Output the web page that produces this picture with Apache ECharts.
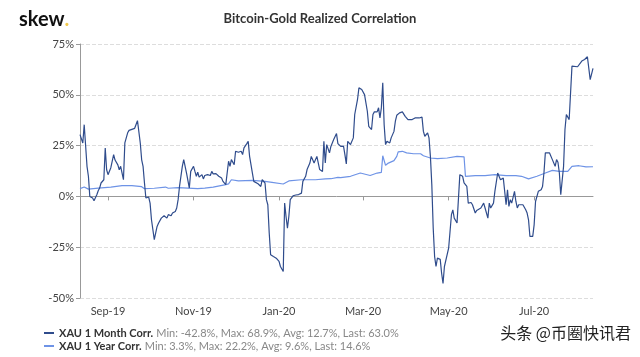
<!DOCTYPE html>
<html>
<head>
<meta charset="utf-8">
<script src="https://cdn.jsdelivr.net/npm/echarts@6/dist/echarts.min.js"></script>
<style>html,body{margin:0;padding:0;background:#fff}#c{width:640px;height:357px}</style>
</head>
<body>
<div id="c"></div>
<script>
// Day offsets are counted from the first date on the axis (12 Aug 2019)
const startDate = [2019, 7, 12];
const endDay = 366;
const monthDays = [0,2,3,5,6,7,8,9,10,12,13,14,15,17,18,19,20,22,24,25,27,28,29,30,31,32,34,35,37,39,40,41,42,43,44,45,46,47,48,49,50,51,53,54,55,56,58,59,60,62,63,65,66,68,69,70,71,73,74,75,76,78,79,81,82,83,84,85,87,88,89,90,91,93,94,95,
97,99,101,102,104,105,106,107,108,110,111,113,115,116,117,119,120,121,123,124,125,127,129,130,131,132,133,134,135,136,138,139,140,142,143,145,146,147,148,149,150,152,154,156,158,159,161,162,164,165,166,167,169,170,171,173,174,175,176,178,179,181,183,184,186,
188,189,190,191,193,195,196,198,199,201,202,203,205,206,208,209,210,212,213,214,215,216,217,218,219,221,222,223,224,225,226,228,230,231,232,234,235,237,239,240,242,244,245,246,248,249,250,251,252,253,254,255,257,258,259,260,261,263,264,265,266,267,
268,269,270,271,273,274,275,276,277,279,280,281,282,283,284,286,287,288,289,291,292,293,294,295,296,298,299,300,301,302,304,305,306,307,308,310,311,312,313,314,316,317,318,319,320,321,323,324,325,326,327,329,330,331,332,333,335,336,337,339,340,341,342,343,344,345,346,347,348,349,350,351,352,355,356,358,360,361,362,363,364,366];
const monthValues = [30.4,26.3,35.3,14.8,9.9,0,-0.3,-0.8,-2.1,0.8,2.8,4.1,6.6,8.2,23.8,13.1,10.7,14.1,20.6,17.9,15.5,13.1,14.8,15.5,8.2,26.3,31.3,32.5,33,33.5,35.4,37.3,37.3,26.3,18,14.8,6.6,-0.8,-1.6,-0.3,-3.3,-11.5,-21.3,-21,-14.8,-13.2,-10.7,-11.3,-9.5,-10.7,-9,-9.5,-8.2,-7.4,-5.7,-1.6,4.9,14.8,18.1,17.6,11.5,4.1,12.3,14.8,12.3,9.9,11.9,9.5,10.7,8.6,10.3,9.5,10.7,10.3,12.3,11.1,
11.2,9.9,9,7.4,5.8,5.8,17.3,14.8,18.1,15.6,22.2,21.7,22.2,20.6,23.9,26,27.1,19.7,11.5,7.4,6.9,6.2,4.9,8.2,8.5,6.6,-1.6,-4.1,-18,-28.7,-29.6,-30.4,-30.4,-32,-34.5,-37,-3.3,-9.9,-15.6,-9.9,-1.6,0.3,0.7,0.9,1.6,7.4,9.9,13.2,16.4,19.7,20.6,16.4,19.7,20.6,13.2,12.3,27.1,16.4,25.5,21.4,24.6,28,30.9,26,24.6,
24.7,20.6,16,27.1,25.5,28.8,40.3,47.7,53.4,52.6,52.6,50.1,41.9,34.5,32.9,40.3,41.6,41.6,43.6,38.6,43.6,55.9,35.3,25.5,27.1,26.3,28.8,29.6,32,37,39.9,41.1,41.6,41.6,39.4,37.8,38.6,37.8,38.6,38.1,38.6,39,32,29.6,31.3,28.8,19.7,5.8,-15.6,-29.6,-34.5,-30.4,-31,-37.8,-42.8,-34.5,-33.7,-25.5,-17.3,-9,-6.6,-10.7,
-11.5,-13.1,-14,10.7,9.9,6.6,6.9,4.9,-3.3,-3,-4.1,-3.3,-8.2,-6.9,-7.4,-5.7,-6.6,-3.3,-5.7,-10.7,-3.3,-5.7,-6.6,-3.3,2.5,11.5,10.7,8.2,7.4,9,-4.1,3.3,-4.9,-1.6,-3.3,2.5,-2.5,-5.7,-4.1,-3.3,-4.1,-3.3,-6.6,-8.2,-11.5,-19.7,-19.7,-14,-2.5,-1.6,2.5,3.3,4.9,11.5,21.4,21.7,21.4,21.7,18.1,14.8,18.1,16.8,11.5,0.8,0,14.8,32.9,40.3,39.4,37.8,51,64.1,64.6,63.8,63.1,66.6,67.4,67,68.7,68.9,57.5,63];
const yearDays = [0,3,6,13,22,30,37,44,46,53,61,63,70,77,84,89,95,96,104,106,108,113,123,132,137,145,149,158,168,175,179,184,186,193,200,207,212,215,216,218,220,224,226,227,230,233,238,243,245,250,255,262,269,274,275,282,289,296,304,311,315,320,326,332,337,342,348,351,356,361,366];
const yearValues = [3.8,4.6,3.6,4.1,4.6,5.3,5.3,4.8,3.8,4,4.6,4,4.3,4.1,3.8,4.1,4.6,4.9,5.8,6.2,8.2,7.6,7.9,7.4,6.9,6.1,7.6,8.2,8.2,8.6,8.7,9.4,9.2,9.9,11.5,10.3,11.5,11.8,20,15.3,16.4,17.6,19.7,21.9,22.2,21.4,21,21,20,18.9,18.6,18.9,19.7,19.5,9.9,10.2,10.2,10.7,10.2,10.2,9.9,8.6,9.9,11.5,12.8,12.3,12.3,14.8,15.1,14.5,14.6];
const seriesNames = ['XAU 1 Month Corr.', 'XAU 1 Year Corr.'];
const seriesStats = ['Min: -42.8%, Max: 68.9%, Avg: 12.7%, Last: 63.0%', 'Min: 3.3%, Max: 22.2%, Avg: 9.6%, Last: 14.6%'];
const yTicks = [-50, -25, 0, 25, 50, 75];
const monthAbbr = ['Jan','Feb','Mar','Apr','May','Jun','Jul','Aug','Sep','Oct','Nov','Dec'];
const titleText = 'Bitcoin-Gold Realized Correlation';
const watermark = '头条 @币圈快讯君';

function dayToTime(d) { return new Date(startDate[0], startDate[1], startDate[2] + d).getTime(); }
const monthData = monthDays.map((d, i) => [dayToTime(d), monthValues[i]]);
const yearData = yearDays.map((d, i) => [dayToTime(d), yearValues[i]]);
const statsByName = {}; seriesNames.forEach((n, i) => statsByName[n] = seriesStats[i]);

const chart = echarts.init(document.getElementById('c'), null, {renderer: 'canvas'});
chart.setOption({
  animation: false,
  backgroundColor: '#fff',
  textStyle: {fontFamily: 'Lato'},
  title: [{
    text: titleText, left: 'center', top: 7,
    textStyle: {fontFamily: 'Lato', fontSize: 13, fontWeight: 'bold', color: '#333'}
  }, {
    text: '{a|skew}{b|.}', left: 14, top: 5,
    textStyle: {rich: {
      a: {fontFamily: 'Lato', fontSize: 20, fontWeight: 'bold', color: '#111'},
      b: {fontFamily: 'Lato', fontSize: 20, fontWeight: 'bold', color: '#f2c94c'}
    }}
  }],
  graphic: [{
    type: 'text', right: 9, top: 325,
    style: {text: watermark, font: '16px "Noto Sans CJK SC"', fill: '#222'}
  }],
  legend: {
    orient: 'vertical', left: 44, top: 327, height: 60, itemWidth: 10, itemHeight: 2, itemGap: 1,
    padding: 0,
    icon: 'rect',
    data: seriesNames,
    formatter: name => '{n|' + name + '} {s|' + statsByName[name] + '}',
    textStyle: {rich: {
      n: {fontFamily: 'Lato', fontSize: 11, fontWeight: 'bold', color: '#333', lineHeight: 12},
      s: {fontFamily: 'Lato', fontSize: 11, color: '#888', lineHeight: 12}
    }}
  },
  grid: {left: 80, right: 47, top: 44, bottom: 59},
  xAxis: {
    type: 'time',
    min: dayToTime(0), max: dayToTime(endDay),
    splitNumber: 6,
    axisLine: {lineStyle: {color: '#999'}},
    axisTick: {show: true, length: 4, lineStyle: {color: '#999'}},
    splitLine: {show: false},
    axisLabel: {
      color: '#444', fontSize: 11, fontFamily: 'Lato', margin: 8,
      formatter: v => { const d = new Date(v); return monthAbbr[d.getMonth()] + '-' + String(d.getFullYear()).slice(2); }
    }
  },
  yAxis: {
    type: 'value', min: yTicks[0], max: yTicks[yTicks.length - 1], interval: 25,
    axisLine: {show: true, lineStyle: {color: '#999'}},
    axisTick: {show: true, length: 4, lineStyle: {color: '#999'}},
    splitLine: {lineStyle: {color: '#ddd', type: 'dashed'}},
    axisLabel: {color: '#444', fontSize: 11, fontFamily: 'Lato', margin: 6, formatter: v => v + '%'}
  },
  series: [{
    name: seriesNames[0], type: 'line', data: monthData, showSymbol: false,
    lineStyle: {color: '#2f4c8c', width: 1.2}, itemStyle: {color: '#2f4c8c'}, z: 3
  }, {
    name: seriesNames[1], type: 'line', data: yearData, showSymbol: false,
    lineStyle: {color: '#6e93e6', width: 1.2}, itemStyle: {color: '#6e93e6'}, z: 2
  }]
});
</script>
</body>
</html>
